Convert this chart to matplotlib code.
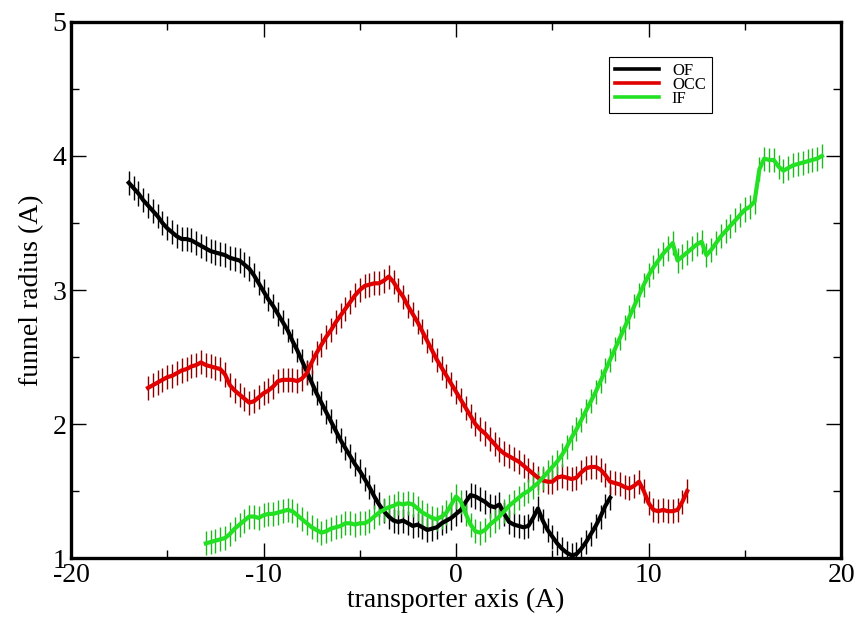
import numpy as np
import matplotlib
matplotlib.use('Agg')
import matplotlib.pyplot as plt
from matplotlib.lines import Line2D

plt.rcParams['font.family'] = ['Liberation Serif', 'DejaVu Serif']
plt.rcParams['axes.unicode_minus'] = False

# funnel radius profiles, sampled every 0.25 A along the transporter axis
of_start = -17.0
of_radius = [3.80, 3.76, 3.72, 3.67, 3.63, 3.59, 3.55, 3.50, 3.46, 3.43,
             3.40, 3.38, 3.38, 3.37, 3.35, 3.33, 3.31, 3.29, 3.28, 3.27,
             3.26, 3.24, 3.23, 3.22, 3.19, 3.16, 3.11, 3.05, 2.99, 2.93,
             2.88, 2.82, 2.76, 2.70, 2.62, 2.55, 2.47, 2.39, 2.31, 2.23,
             2.16, 2.09, 2.02, 1.95, 1.88, 1.82, 1.76, 1.70, 1.65, 1.59,
             1.53, 1.46, 1.40, 1.35, 1.31, 1.28, 1.27, 1.28, 1.26, 1.24,
             1.25, 1.23, 1.21, 1.22, 1.23, 1.26, 1.28, 1.30, 1.33, 1.36,
             1.42, 1.47, 1.46, 1.44, 1.42, 1.39, 1.38, 1.40, 1.33, 1.27,
             1.25, 1.24, 1.23, 1.24, 1.30, 1.37, 1.28, 1.21, 1.16, 1.11,
             1.07, 1.04, 1.02, 1.03, 1.07, 1.12, 1.18, 1.24, 1.31, 1.39,
             1.45]

occ_start = -16.0
occ_radius = [2.27, 2.29, 2.31, 2.33, 2.35, 2.36, 2.38, 2.40, 2.41, 2.43,
              2.44, 2.46, 2.44, 2.43, 2.42, 2.41, 2.37, 2.29, 2.25, 2.22,
              2.19, 2.16, 2.17, 2.20, 2.23, 2.25, 2.28, 2.32, 2.33, 2.33,
              2.33, 2.32, 2.34, 2.38, 2.46, 2.53, 2.59, 2.65, 2.70, 2.76,
              2.81, 2.86, 2.91, 2.96, 3.00, 3.03, 3.04, 3.05, 3.05, 3.07,
              3.10, 3.06, 3.00, 2.95, 2.88, 2.82, 2.76, 2.69, 2.62, 2.55,
              2.48, 2.42, 2.36, 2.30, 2.24, 2.18, 2.12, 2.06, 2.00, 1.96,
              1.93, 1.89, 1.85, 1.81, 1.78, 1.76, 1.74, 1.72, 1.69, 1.66,
              1.63, 1.60, 1.58, 1.57, 1.57, 1.60, 1.61, 1.60, 1.59, 1.60,
              1.64, 1.67, 1.68, 1.68, 1.66, 1.62, 1.57, 1.56, 1.55, 1.53,
              1.52, 1.54, 1.57, 1.50, 1.41, 1.36, 1.35, 1.36, 1.35, 1.35,
              1.36, 1.42, 1.50]

if_start = -13.0
if_radius = [1.11, 1.12, 1.13, 1.14, 1.15, 1.18, 1.22, 1.25, 1.28, 1.31,
             1.31, 1.30, 1.32, 1.33, 1.33, 1.34, 1.35, 1.36, 1.35, 1.32,
             1.29, 1.26, 1.23, 1.21, 1.19, 1.20, 1.22, 1.23, 1.24, 1.26,
             1.26, 1.25, 1.26, 1.26, 1.28, 1.31, 1.34, 1.36, 1.38, 1.39,
             1.41, 1.40, 1.41, 1.40, 1.37, 1.34, 1.32, 1.30, 1.29, 1.31,
             1.34, 1.40, 1.46, 1.42, 1.33, 1.25, 1.20, 1.19, 1.21, 1.25,
             1.28, 1.31, 1.35, 1.39, 1.42, 1.45, 1.48, 1.50, 1.53, 1.56,
             1.60, 1.64, 1.68, 1.72, 1.77, 1.83, 1.90, 1.96, 2.03, 2.10,
             2.17, 2.24, 2.32, 2.40, 2.48, 2.56, 2.64, 2.72, 2.80, 2.88,
             2.96, 3.04, 3.11, 3.17, 3.22, 3.27, 3.31, 3.35, 3.22, 3.25,
             3.28, 3.31, 3.34, 3.36, 3.26, 3.30, 3.35, 3.40, 3.44, 3.48,
             3.52, 3.56, 3.60, 3.62, 3.66, 3.90, 3.98, 3.97, 3.97, 3.92,
             3.89, 3.91, 3.93, 3.94, 3.95, 3.96, 3.97, 3.98, 4.00]

radius_err = 0.09
step = 0.25

series = [
    ('OF', of_start, of_radius, 'black', 'black'),
    ('OCC', occ_start, occ_radius, '#e00000', '#8a0000'),
    ('IF', if_start, if_radius, '#22e022', '#1cb81c'),
]

fig = plt.figure(figsize=(8.61, 6.25), dpi=100)
ax = fig.add_axes([0.0825, 0.107, 0.8945, 0.858])

handles = []
for name, x0, r, col, ecol in series:
    x = x0 + step * np.arange(len(r))
    ax.errorbar(x, r, yerr=radius_err, color=col, ecolor=ecol,
                elinewidth=1.0, capsize=0, lw=3.0)
    handles.append(Line2D([], [], color=col, lw=2.6, label=name))

ax.set_xlim(-20, 20)
ax.set_ylim(1, 5)
ax.set_xticks([-20, -10, 0, 10, 20])
ax.set_xticks([-15, -5, 5, 15], minor=True)
ax.set_yticks([1, 2, 3, 4, 5])
ax.set_yticks([1.5, 2.5, 3.5, 4.5], minor=True)
ax.tick_params(which='both', direction='in', top=True, right=True,
               labelsize=20, width=1.0)
ax.tick_params(which='major', length=11)
ax.tick_params(which='minor', length=6)
for s in ax.spines.values():
    s.set_linewidth(2.4)

ax.set_xlabel('transporter axis (A)', fontsize=20, labelpad=0)
ax.set_ylabel('funnel radius (A)', fontsize=20, labelpad=6)

leg = ax.legend(handles=handles, loc='upper left',
                bbox_to_anchor=(0.699, 0.935),
                fontsize=12, frameon=True, fancybox=False,
                edgecolor='black', framealpha=1, handlelength=2.6,
                labelspacing=-0.1, borderpad=0.35, handletextpad=0.8,
                borderaxespad=0)
leg.get_frame().set_linewidth(0.8)

fig.savefig('out.png', dpi=100)
